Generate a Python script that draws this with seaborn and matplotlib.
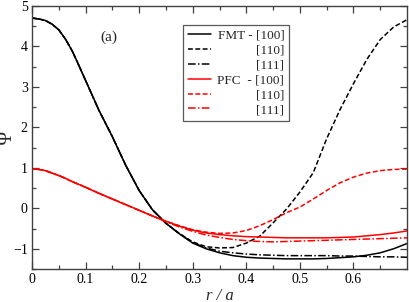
import numpy as np
import matplotlib
matplotlib.use("Agg")
import matplotlib.pyplot as plt
import pandas as pd
import seaborn as sns

# r/a grid the curves were read on
r = [0.0, 0.0125, 0.025, 0.0375, 0.05, 0.0625, 0.075, 0.0875, 0.1,
     0.125, 0.15, 0.175, 0.2, 0.225,
     0.25, 0.275, 0.3, 0.325, 0.35, 0.375, 0.4, 0.425, 0.45, 0.475,
     0.5, 0.525, 0.55, 0.575, 0.6, 0.625, 0.65, 0.675, 0.7]

fmt_100 = [4.70, 4.68, 4.64, 4.55, 4.41, 4.18, 3.89, 3.53, 3.16,
           2.42, 1.77, 1.06, 0.44, -0.04,
           -0.37, -0.63, -0.86, -1.00, -1.10, -1.17, -1.21, -1.23, -1.24, -1.25,
           -1.25, -1.25, -1.24, -1.22, -1.20, -1.16, -1.10, -1.00, -0.87]
fmt_110 = [4.70, 4.68, 4.64, 4.55, 4.41, 4.18, 3.89, 3.53, 3.16,
           2.42, 1.77, 1.06, 0.44, -0.04,
           -0.37, -0.62, -0.83, -0.95, -0.98, -0.97, -0.86, -0.69, -0.36, -0.02,
           0.40, 0.88, 1.72, 2.44, 3.08, 3.68, 4.17, 4.48, 4.66]
fmt_111 = [4.70, 4.68, 4.64, 4.55, 4.41, 4.18, 3.89, 3.53, 3.16,
           2.42, 1.77, 1.06, 0.44, -0.04,
           -0.37, -0.63, -0.85, -0.98, -1.06, -1.10, -1.13, -1.15, -1.16, -1.17,
           -1.17, -1.17, -1.17, -1.18, -1.18, -1.19, -1.20, -1.20, -1.21]
pfc_100 = [0.98, 0.96, 0.93, 0.87, 0.81, 0.74, 0.66, 0.59, 0.52,
           0.37, 0.23, 0.09, -0.05, -0.19,
           -0.32, -0.44, -0.54, -0.61, -0.65, -0.68, -0.70, -0.71, -0.72, -0.73,
           -0.73, -0.73, -0.73, -0.72, -0.71, -0.68, -0.65, -0.61, -0.56]
pfc_110 = [0.98, 0.96, 0.93, 0.87, 0.81, 0.74, 0.66, 0.59, 0.52,
           0.37, 0.23, 0.09, -0.05, -0.19,
           -0.32, -0.43, -0.53, -0.59, -0.62, -0.61, -0.55, -0.43, -0.28, -0.11,
           0.03, 0.23, 0.44, 0.63, 0.77, 0.87, 0.93, 0.96, 0.97]
pfc_111 = [0.98, 0.96, 0.93, 0.87, 0.81, 0.74, 0.66, 0.59, 0.52,
           0.37, 0.23, 0.09, -0.05, -0.19,
           -0.33, -0.46, -0.57, -0.66, -0.72, -0.77, -0.80, -0.82, -0.83, -0.82,
           -0.81, -0.80, -0.79, -0.78, -0.77, -0.76, -0.75, -0.74, -0.73]

labels = ["FMT - [100]", "[110]", "[111]", "PFC  - [100]", "[110]", "[111]"]


def main():
    sns.set_style("ticks")
    plt.rcParams['font.family'] = ['Liberation Serif', 'DejaVu Serif']
    plt.rcParams['mathtext.fontset'] = 'stix'

    fig = plt.figure(figsize=(4.09, 3.02), dpi=100)
    ax = fig.add_axes([0.0782, 0.1093, 0.917, 0.871])

    series = [fmt_100, fmt_110, fmt_111, pfc_100, pfc_110, pfc_111]
    colors = ['black', 'black', 'black', 'red', 'red', 'red']
    styles = ['-', (0, (3.2, 1.6)), (0, (5, 1.5, 1, 1.5)),
              '-', (0, (3.2, 1.6)), (0, (5, 1.5, 1, 1.5))]
    for ys, c, ls, lab in zip(series, colors, styles, labels):
        sns.lineplot(x=r, y=ys, color=c, linestyle=ls, lw=1.1,
                     label=lab, ax=ax, estimator=None, sort=False)

    ax.set_xlim(0, 0.7)
    ax.set_ylim(-1.5, 5)
    ax.set_xticks([0, 0.1, 0.2, 0.3, 0.4, 0.5, 0.6])
    ax.set_xticklabels(['0', '0.1', '0.2', '0.3', '0.4', '0.5', '0.6'])
    ax.set_xticks(np.arange(0.05, 0.7, 0.1), minor=True)
    ax.set_yticks([-1, 0, 1, 2, 3, 4, 5])
    ax.set_yticks(np.arange(-1.5, 5.0, 1.0), minor=True)
    ax.tick_params(which='both', direction='in', top=True, right=True,
                   labelsize=10, colors='0.25', labelcolor='black', width=0.9)
    ax.tick_params(which='major', length=5, pad=3)
    ax.tick_params(which='minor', length=3)
    for sp in ax.spines.values():
        sp.set_linewidth(1.0)
        sp.set_color('0.25')

    ax.set_xlabel('r / a', fontsize=12, fontstyle='italic', labelpad=1)
    ax.set_ylabel('Ψ', fontsize=14)
    ax.yaxis.set_label_coords(-0.042, 0.5)
    ax.text(0.143, 4.23, '(a)', fontsize=11, ha='center', va='center')

    leg = ax.legend(loc='upper left', bbox_to_anchor=(0.403, 0.928),
                    borderaxespad=0, fontsize=9.5, frameon=True, fancybox=False,
                    framealpha=1, edgecolor='0.35', handlelength=1.75,
                    handletextpad=0.5, labelspacing=0.2, borderpad=0.35)
    leg.get_frame().set_linewidth(0.9)

    # right-align legend labels: redraw them as figure texts
    fig.canvas.draw()
    texts = leg.get_texts()
    boxes = [t.get_window_extent() for t in texts]
    xr = max(b.x1 for b in boxes)
    W, H = fig.bbox.width, fig.bbox.height
    for t, b in zip(texts, boxes):
        fig.text(xr / W, b.y0 / H, t.get_text(), fontsize=9.5,
                 ha='right', va='bottom', zorder=10)
        t.set_visible(False)

    fig.savefig('out.png', dpi=100)


if __name__ == "__main__":
    main()
